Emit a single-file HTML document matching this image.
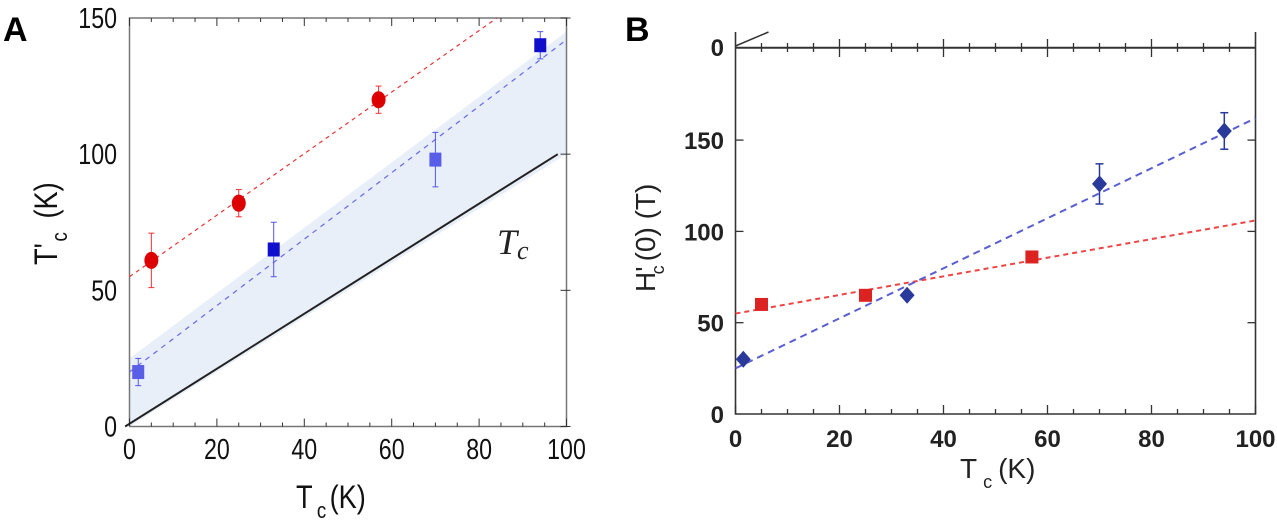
<!DOCTYPE html>
<html><head><meta charset="utf-8"><style>
html,body{margin:0;padding:0;background:#fff;width:1277px;height:521px;overflow:hidden}
svg text{font-family:"Liberation Sans",sans-serif}
</style></head><body>
<svg id="chart" width="1277" height="521" viewBox="0 0 1277 521" xmlns="http://www.w3.org/2000/svg">
<g id="pa"></g>
<g id="pb"></g>
</svg>
<script>
// Panel A data
const aRedX=[5,25,57];
const aRedY=[61,82,120];
const aRedErr=[10,5,5];
const aBlueX=[2,33,70,94];
const aBlueY=[20,65,98,140];
const aBlueErr=[5,10,10,5];
const aBlueColors=["#5a5ee6","#1010cc","#5a5ee6","#1010cc"];
const aRedFit=[55,1.13];
const aBlueFit=[20,1.22];
const aBand=[25,145];
const aXTicks=[0,20,40,60,80,100];
const aYTicks=[0,50,100,150];
// Panel B data
const bRedX=[5,25,57];
const bRedY=[60,65,86];
const bBlueX=[1.5,33,70,94];
const bBlueY=[30,65,126,155];
const bBlueErr=[0,0,11,10];
const bRedFit=[55,0.51];
const bBlueFit=[25,1.37];
const bXTicks=[0,20,40,60,80,100];
const bYTicks=[0,50,100,150];

const NS="http://www.w3.org/2000/svg";
function mk(p,t,a,txt){const e=document.createElementNS(NS,t);for(const k in a)e.setAttribute(k,a[k]);if(txt!==undefined)e.textContent=txt;p.appendChild(e);return e;}
const SX=0.8;

// ---------- Panel A ----------
const A=document.getElementById('pa');
const ax=v=>129.5+v*4.37, ay=v=>426.5-v*(408.5/150);
let band=mk(A,'polygon',{points:`${ax(0)},${ay(0)} ${ax(0)},${ay(aBand[0])} ${ax(100)},${ay(aBand[1])} ${ax(100)},${ay(100)}`,fill:'#e9eff9'});


let fr=mk(A,'path',{d:`M${ax(0)},${ay(0)} H${ax(100)} V${ay(150)} H${ax(0)} V${ay(0)}`,fill:'none',stroke:'#777','stroke-width':1.5});


for(let v=0;v<=100;v+=5){const L=v%20===0?8:4;
 mk(A,'line',{x1:ax(v),x2:ax(v),y1:ay(0),y2:ay(0)-L,stroke:'#333','stroke-width':1});
 mk(A,'line',{x1:ax(v),x2:ax(v),y1:ay(150),y2:ay(150)+L,stroke:'#333','stroke-width':1});}
aYTicks.forEach(v=>{mk(A,'line',{x1:ax(100)-6,x2:ax(100)+4,y1:ay(v),y2:ay(v),stroke:'#333'});});
aXTicks.forEach(v=>{let t=mk(A,'text',{x:0,y:0,transform:`translate(${ax(v)},459) scale(${SX},1)`,'font-size':29,'text-anchor':'middle',fill:'#111'},v);
 
 });
aYTicks.forEach(v=>{let t=mk(A,'text',{x:0,y:0,transform:`translate(117,${ay(v)+10}) scale(${SX},1)`,'font-size':29,'text-anchor':'end',fill:'#111'},v);
 
 });
let tl=mk(A,'line',{x1:ax(-1),y1:ay(0),x2:ax(98),y2:ay(100),stroke:'#222','stroke-width':2});


let tlab=mk(A,'text',{x:497,y:254,'font-size':36,'font-style':'italic',fill:'#222',style:'font-family:"Liberation Serif",serif'},'T');
mk(tlab,'tspan',{'font-size':26,dy:5},'c');


let rf=mk(A,'line',{x1:ax(0),y1:ay(aRedFit[0]),x2:ax((150-aRedFit[0])/aRedFit[1]),y2:ay(150),stroke:'#e33','stroke-width':1.2,'stroke-dasharray':'4,4'});


let bf=mk(A,'line',{x1:ax(0),y1:ay(aBlueFit[0]),x2:ax(100),y2:ay(aBlueFit[0]+aBlueFit[1]*100),stroke:'#66e','stroke-width':1.2,'stroke-dasharray':'5,5'});


aRedX.forEach((x,i)=>{const cx=ax(x),cy=ay(aRedY[i]),e=aRedErr[i];
 mk(A,'line',{x1:cx,x2:cx,y1:ay(aRedY[i]+e),y2:ay(aRedY[i]-e),stroke:'#e33'});
 mk(A,'line',{x1:cx-3,x2:cx+3,y1:ay(aRedY[i]+e),y2:ay(aRedY[i]+e),stroke:'#e33'});
 mk(A,'line',{x1:cx-3,x2:cx+3,y1:ay(aRedY[i]-e),y2:ay(aRedY[i]-e),stroke:'#e33'});
 let c=mk(A,'ellipse',{cx:cx,cy:cy,rx:7,ry:8.5,fill:'#dd0000'});
 
 });
aBlueX.forEach((x,i)=>{const cx=ax(x),cy=ay(aBlueY[i]),e=aBlueErr[i],col=aBlueColors[i];
 mk(A,'line',{x1:cx,x2:cx,y1:ay(aBlueY[i]+e),y2:ay(aBlueY[i]-e),stroke:'#55e'});
 mk(A,'line',{x1:cx-3,x2:cx+3,y1:ay(aBlueY[i]+e),y2:ay(aBlueY[i]+e),stroke:'#55e'});
 mk(A,'line',{x1:cx-3,x2:cx+3,y1:ay(aBlueY[i]-e),y2:ay(aBlueY[i]-e),stroke:'#55e'});
 let r=mk(A,'rect',{x:cx-6,y:cy-7,width:12,height:14,fill:col});
 
 });
let la=mk(A,'text',{x:3,y:41,'font-size':34,'font-weight':'bold',fill:'#000'},'A');


let xta=mk(A,'text',{x:0,y:0,transform:`translate(296,508) scale(0.85,1)`,'font-size':32,fill:'#111'},'T');
mk(xta,'tspan',{'font-size':22,dy:10,dx:5},'c');
mk(xta,'tspan',{'font-size':32,dy:-10,dx:4},'(K)');


let yta=mk(A,'text',{x:0,y:0,transform:'translate(57,265) rotate(-90) scale(0.85,1)','font-size':32,fill:'#111'},"T'");
mk(yta,'tspan',{'font-size':22,dy:10,dx:2},'c');
mk(yta,'tspan',{'font-size':32,dy:-10,dx:16},'(K)');



// ---------- Panel B ----------
const B=document.getElementById('pb');
const bx=v=>735.5+v*5.2, by=v=>414-v*(91.3/50);
let frb=mk(B,'path',{d:`M${bx(0)},32 V${by(0)} H${bx(100)} V32`,fill:'none',stroke:'#333','stroke-width':1.6});


let topAxisB=mk(B,'line',{x1:bx(0),x2:bx(100),y1:47.7,y2:47.7,stroke:'#333','stroke-width':2});


mk(B,'line',{x1:bx(0),y1:46,x2:bx(0)+33,y2:32,stroke:'#333','stroke-width':1.5});
for(let v=0;v<=100;v+=5){const maj=v%20===0;
 mk(B,'line',{x1:bx(v),x2:bx(v),y1:by(0),y2:by(0)-(maj?9:5),stroke:'#333','stroke-width':1.3});
 if(v>0&&v<100)mk(B,'line',{x1:bx(v),x2:bx(v),y1:maj?39:43,y2:maj?57:52,stroke:'#333','stroke-width':1.3});}
bYTicks.forEach(v=>{if(v>0){mk(B,'line',{x1:bx(0),x2:bx(0)+8,y1:by(v),y2:by(v),stroke:'#333','stroke-width':1.3});
 mk(B,'line',{x1:bx(100)-8,x2:bx(100),y1:by(v),y2:by(v),stroke:'#333','stroke-width':1.3});}});
bXTicks.forEach(v=>{let t=mk(B,'text',{x:bx(v),y:447,'font-size':24,'font-weight':'bold','text-anchor':'middle',fill:'#222'},v);
 
 });
bYTicks.forEach(v=>{let t=mk(B,'text',{x:724,y:by(v)+9,'font-size':24,'font-weight':'bold','text-anchor':'end',fill:'#222'},v);
 
 });
let y0top=mk(B,'text',{x:724,y:56,'font-size':24,'font-weight':'bold','text-anchor':'end',fill:'#222'},'0');


let rfb=mk(B,'line',{x1:bx(0),y1:by(bRedFit[0]),x2:bx(100),y2:by(bRedFit[0]+bRedFit[1]*100),stroke:'#ee4444','stroke-width':2,'stroke-dasharray':'5,4'});


let bfb=mk(B,'line',{x1:bx(0),y1:by(bBlueFit[0]),x2:bx(100),y2:by(bBlueFit[0]+bBlueFit[1]*100),stroke:'#5a5ed0','stroke-width':2,'stroke-dasharray':'7,5'});


bRedX.forEach((x,i)=>{let r=mk(B,'rect',{x:bx(x)-6.5,y:by(bRedY[i])-6.5,width:13,height:13,fill:'#dd2222'});
 
 });
bBlueX.forEach((x,i)=>{const cx=bx(x),cy=by(bBlueY[i]),e=bBlueErr[i];
 if(e>0){mk(B,'line',{x1:cx,x2:cx,y1:by(bBlueY[i]+e),y2:by(bBlueY[i]-e),stroke:'#2a3a9a','stroke-width':1.5});
 mk(B,'line',{x1:cx-4,x2:cx+4,y1:by(bBlueY[i]+e),y2:by(bBlueY[i]+e),stroke:'#2a3a9a','stroke-width':1.5});
 mk(B,'line',{x1:cx-4,x2:cx+4,y1:by(bBlueY[i]-e),y2:by(bBlueY[i]-e),stroke:'#2a3a9a','stroke-width':1.5});}
 let d=mk(B,'polygon',{points:`${cx},${cy-8.5} ${cx+7.5},${cy} ${cx},${cy+8.5} ${cx-7.5},${cy}`,fill:'#2a3a9a'});
 
 });
let lb=mk(B,'text',{x:625,y:41,'font-size':34,'font-weight':'bold',fill:'#000'},'B');


let xtb=mk(B,'text',{x:960,y:478,'font-size':28,fill:'#222'},'T');
mk(xtb,'tspan',{'font-size':18,dy:10,dx:6},'c');
mk(xtb,'tspan',{'font-size':28,dy:-10,dx:6},'(K)');


let ytb=mk(B,'text',{transform:'translate(655,292) rotate(-90)','font-size':28,fill:'#222'},"H'");
mk(ytb,'tspan',{'font-size':18,dy:9,dx:-8},'c');
mk(ytb,'tspan',{'font-size':28,dy:-9,dx:4},'(0) (T)');


</script>
</body></html>
